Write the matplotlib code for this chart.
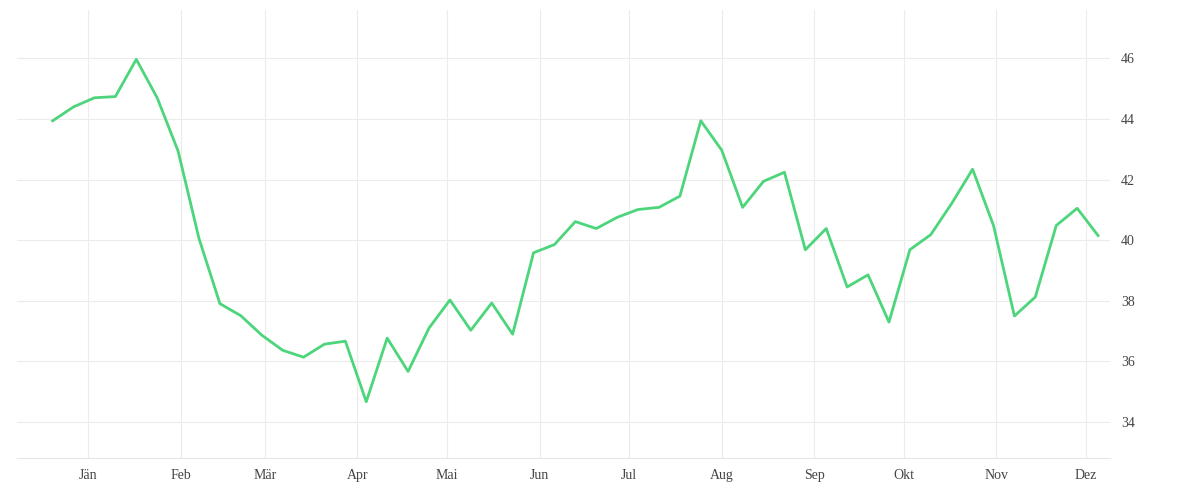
import matplotlib.pyplot as plt
import matplotlib.dates as mdates
import pandas as pd

start = "2022-12-20"
values = [43.94, 44.4, 44.7, 44.74, 45.97, 44.7, 42.94, 40.05, 37.9, 37.5,
          36.86, 36.36, 36.13, 36.56, 36.66, 34.66, 36.76, 35.66, 37.09, 38.02,
          37.02, 37.92, 36.89, 39.58, 39.85, 40.61, 40.38, 40.75, 41.01, 41.08,
          41.45, 43.94, 42.97, 41.08, 41.94, 42.24, 39.68, 40.38, 38.45, 38.85,
          37.29, 39.68, 40.18, 41.21, 42.34, 40.48, 37.49, 38.12, 40.48, 41.05,
          40.15]
dates = pd.date_range(start, periods=len(values), freq="7D")
month_labels = ["Jän", "Feb", "Mär", "Apr", "Mai", "Jun", "Jul", "Aug",
                "Sep", "Okt", "Nov", "Dez"]
month_ticks = pd.date_range("2023-01-01", periods=12, freq="MS")
y_ticks = [34, 36, 38, 40, 42, 44, 46]

plt.rcParams["font.family"] = ["Liberation Serif", "DejaVu Serif"]
fig = plt.figure(figsize=(12, 5), dpi=100)
ax = fig.add_axes([0.014, 0.084, 0.911, 0.896])

ax.plot(dates, values, color="#4cd57b", linewidth=2)

ax.set_xlim(pd.Timestamp("2022-12-08"), pd.Timestamp("2023-12-09"))
ax.set_ylim(32.8, 47.6)
ax.set_xticks(month_ticks)
ax.set_xticklabels(month_labels)
ax.set_yticks(y_ticks)
ax.yaxis.tick_right()
ax.tick_params(length=0, labelsize=10, colors="#444444", pad=8)
ax.grid(color="#ececec", linewidth=0.8)
for s in ["top", "left", "right"]:
    ax.spines[s].set_visible(False)
ax.spines["bottom"].set_color("#e6e6e6")
ax.spines["bottom"].set_linewidth(0.8)

plt.savefig("out.png", dpi=100)
